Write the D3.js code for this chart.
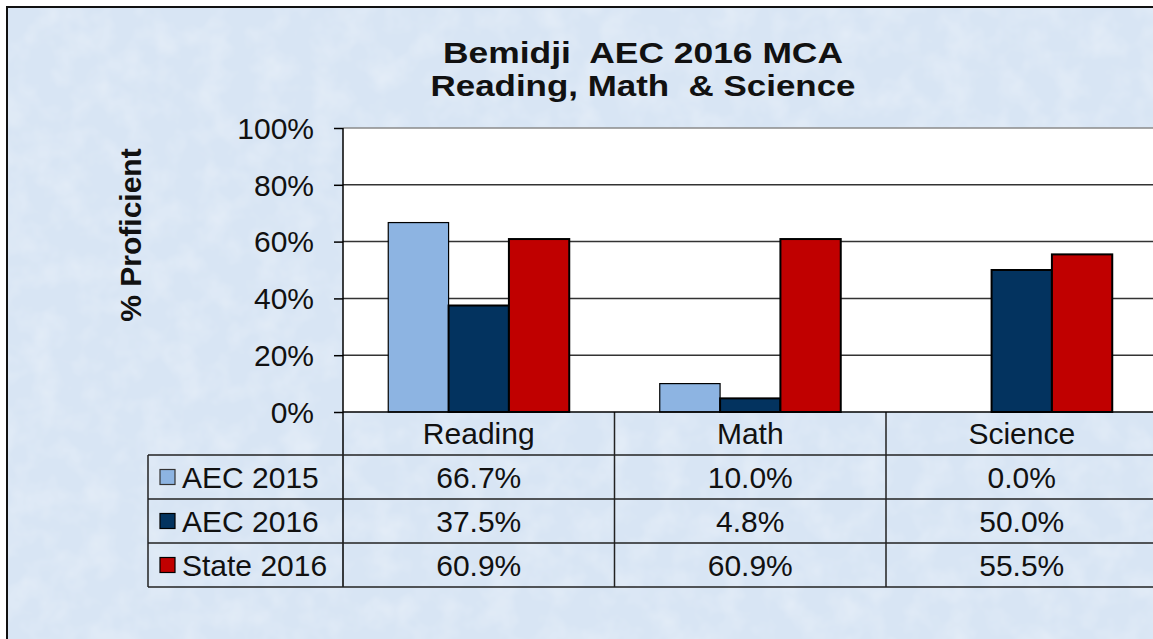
<!DOCTYPE html>
<html>
<head>
<meta charset="utf-8">
<script src="https://cdn.jsdelivr.net/npm/d3@7"></script>
<style>
  html, body { margin: 0; padding: 0; background: #fff; }
  svg { display: block; font-family: "Liberation Sans", Arial, sans-serif; }
</style>
</head>
<body>
<div id="chart"></div>
<script>
// Data
var categories = ['Reading', 'Math', 'Science'];
var seriesNames = ['AEC 2015', 'AEC 2016', 'State 2016'];
var aec2015 = [0.667, 0.100, 0.000];
var aec2016 = [0.375, 0.048, 0.500];
var state2016 = [0.609, 0.609, 0.555];
var yTicks = [0, 0.2, 0.4, 0.6, 0.8, 1.0];
var titleLines = ['Bemidji  AEC 2016 MCA', 'Reading, Math  & Science'];

var colors = ['#8db4e2', '#03335f', '#c00000'];
var seriesValues = [aec2015, aec2016, state2016];

function init() {
  var width = 1153, height = 639;
  var plot = {left: 343, top: 128, bottom: 412, band: 271.5};
  var rowH = 44;
  var fs = 30; // table font size

  var svg = d3.select('#chart').append('svg')
      .attr('width', width)
      .attr('height', height);

  // paper-ish texture for the background
  var defs = svg.append('defs');
  var f = defs.append('filter').attr('id', 'tex').attr('x', 0).attr('y', 0).attr('width', 1).attr('height', 1);
  f.append('feTurbulence').attr('type', 'fractalNoise').attr('baseFrequency', 0.035).attr('numOctaves', 3).attr('seed', 4).attr('result', 'n');
  f.append('feColorMatrix').attr('in', 'n').attr('type', 'matrix')
    .attr('values', '0 0 0 0 1  0 0 0 0 1  0 0 0 0 1  0 0 0 0.55 -0.22');

  svg.append('rect').attr('x', 7).attr('y', 7).attr('width', width).attr('height', height)
    .attr('fill', '#d8e5f4');
  svg.append('rect').attr('x', 7).attr('y', 7).attr('width', width).attr('height', height)
    .attr('filter', 'url(#tex)');

  // Scales
  var x0 = d3.scaleBand()
      .domain(categories)
      .range([plot.left, plot.left + plot.band * categories.length]);
  var x1 = d3.scaleBand()
      .domain(seriesNames)
      .range([0, x0.bandwidth()])
      .paddingOuter(0.75);
  var y = d3.scaleLinear()
      .domain([0, 1])
      .range([plot.bottom, plot.top]);

  // Plot background
  svg.append('rect')
    .attr('x', plot.left).attr('y', plot.top)
    .attr('width', width).attr('height', plot.bottom - plot.top)
    .attr('fill', '#fff');

  // Gridlines
  svg.append('g').selectAll('line')
    .data(yTicks.filter(d => d > 0))
    .enter().append('line')
    .attr('x1', plot.left).attr('x2', width)
    .attr('y1', d => y(d)).attr('y2', d => y(d))
    .attr('stroke', d => d === 1 ? '#8a8a8a' : '#333')
    .attr('stroke-width', 1.5);

  // Bars
  var groups = svg.append('g').selectAll('g')
    .data(categories)
    .enter().append('g')
    .attr('transform', d => `translate(${x0(d)},0)`);

  groups.selectAll('rect')
    .data((c, i) => seriesNames.map((s, j) => ({s: s, j: j, v: seriesValues[j][i]})))
    .enter().append('rect')
    .filter(d => d.v > 0)
    .attr('x', d => x1(d.s))
    .attr('width', x1.bandwidth())
    .attr('y', d => y(d.v))
    .attr('height', d => y(0) - y(d.v))
    .attr('fill', d => colors[d.j])
    .attr('stroke', '#000')
    .attr('stroke-width', d => d.j === 0 ? 1.2 : 2);

  // Y axis
  var yAxis = d3.axisLeft(y).tickValues(yTicks).tickFormat(d3.format('.0%')).tickSize(9).tickPadding(20);
  var ya = svg.append('g')
    .attr('transform', `translate(${plot.left},0)`)
    .call(yAxis);
  ya.select('.domain').remove();
  ya.selectAll('line').attr('stroke', '#000').attr('stroke-width', 1.5);
  ya.selectAll('text')
    .attr('font-size', 30).attr('fill', '#111')
    .attr('font-family', '"Liberation Sans", Arial, sans-serif')
    .attr('dy', '0.34em');

  // Y axis title
  svg.append('text')
    .attr('transform', 'translate(141,235) rotate(-90)')
    .attr('text-anchor', 'middle')
    .attr('font-size', 30).attr('font-weight', 'bold').attr('fill', '#111')
    .text('% Proficient');

  // Title
  var titleWidths = [400, 425];
  svg.append('g').selectAll('text')
    .data(titleLines)
    .enter().append('text')
    .attr('x', 643)
    .attr('y', (d, i) => 63 + i * 33)
    .attr('text-anchor', 'middle')
    .style('white-space', 'pre')
    .attr('textLength', (d, i) => titleWidths[i])
    .attr('lengthAdjust', 'spacingAndGlyphs')
    .attr('font-size', 30).attr('font-weight', 'bold').attr('fill', '#111')
    .text(d => d);

  // Data table
  var table = svg.append('g');
  var rowTop = plot.bottom + rowH - 1; // first data row line
  var tableBottom = rowTop + seriesNames.length * rowH;
  var lineCol = '#222';

  // vertical lines
  var vx = categories.map(c => x0(c)).concat([x0.range()[1]]);
  table.selectAll('.vline')
    .data(vx)
    .enter().append('line')
    .attr('class', 'vline')
    .attr('x1', d => d).attr('x2', d => d)
    .attr('y1', (d, i) => i === 0 ? plot.top : plot.bottom)
    .attr('y2', tableBottom)
    .attr('stroke', (d, i) => i === 0 ? '#000' : lineCol)
    .attr('stroke-width', 1.5);
  table.append('line')
    .attr('x1', 148).attr('x2', 148)
    .attr('y1', rowTop).attr('y2', tableBottom)
    .attr('stroke', lineCol).attr('stroke-width', 1.5);

  // horizontal lines
  table.selectAll('.hline')
    .data(d3.range(seriesNames.length + 1))
    .enter().append('line')
    .attr('class', 'hline')
    .attr('x1', 148).attr('x2', width)
    .attr('y1', d => rowTop + d * rowH).attr('y2', d => rowTop + d * rowH)
    .attr('stroke', lineCol).attr('stroke-width', 1.5);
  table.append('line')
    .attr('x1', plot.left).attr('x2', width)
    .attr('y1', plot.bottom).attr('y2', plot.bottom)
    .attr('stroke', '#000').attr('stroke-width', 1.5);

  // header
  table.selectAll('.hdr')
    .data(categories)
    .enter().append('text')
    .attr('x', d => x0(d) + x0.bandwidth() / 2)
    .attr('y', (plot.bottom + rowTop) / 2 + 10)
    .attr('text-anchor', 'middle')
    .attr('font-size', fs).attr('fill', '#111')
    .text(d => d);

  // rows
  var rows = table.selectAll('.row')
    .data(seriesNames)
    .enter().append('g')
    .attr('transform', (d, i) => `translate(0,${rowTop + i * rowH + rowH / 2})`);

  rows.append('rect')
    .attr('x', 160).attr('y', -7.5)
    .attr('width', 15).attr('height', 15)
    .attr('fill', (d, i) => colors[i])
    .attr('stroke', (d, i) => i === 0 ? '#333' : '#000')
    .attr('stroke-width', 1.2);
  rows.append('text')
    .attr('x', 182).attr('y', 10.5)
    .attr('font-size', fs).attr('fill', '#111')
    .text(d => d);

  rows.selectAll('.val')
    .data((s, j) => categories.map((c, i) => ({c: c, v: seriesValues[j][i]})))
    .enter().append('text')
    .attr('x', d => x0(d.c) + x0.bandwidth() / 2)
    .attr('y', 10.5)
    .attr('text-anchor', 'middle')
    .attr('font-size', fs).attr('fill', '#111')
    .text(d => d3.format('.1%')(d.v));

  // Frame
  svg.append('path')
    .attr('d', `M7,${height} L7,7 L${width},7`)
    .attr('fill', 'none').attr('stroke', '#111').attr('stroke-width', 2);
}

window.onload = init;
</script>
</body>
</html>
